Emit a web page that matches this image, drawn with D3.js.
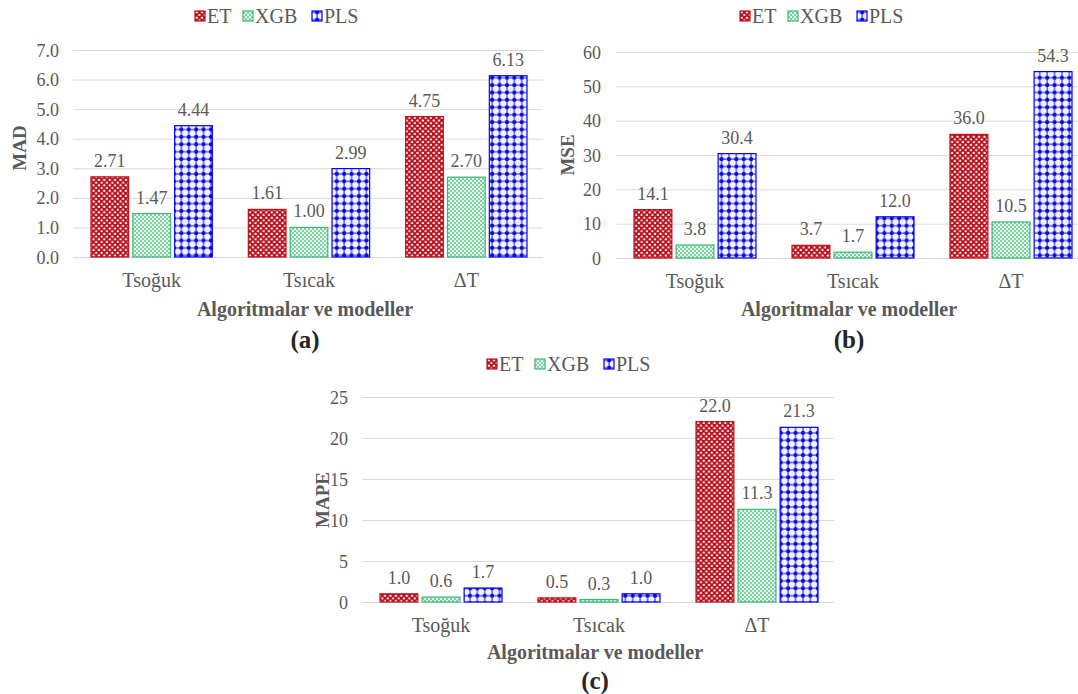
<!DOCTYPE html>
<html><head><meta charset="utf-8">
<script src="https://cdn.jsdelivr.net/npm/d3@7"></script>
<style>
body{margin:0;background:#fff;}
svg text{font-family:'Liberation Serif','Times New Roman',Times,'DejaVu Serif',serif !important;}
</style></head>
<body><svg id="c" width="1078" height="694"></svg>
<script>
// ---- data ----
const categories = ["Tsoğuk", "Tsıcak", "ΔT"];
const seriesNames = ["ET", "XGB", "PLS"];
const madET = [2.71, 1.61, 4.75];
const madXGB = [1.47, 1.00, 2.70];
const madPLS = [4.44, 2.99, 6.13];
const mseET = [14.1, 3.7, 36.0];
const mseXGB = [3.8, 1.7, 10.5];
const msePLS = [30.4, 12.0, 54.3];
const mapeET = [1.0, 0.5, 22.0];
const mapeXGB = [0.6, 0.3, 11.3];
const mapePLS = [1.7, 1.0, 21.3];
const madTicks = [0, 1, 2, 3, 4, 5, 6, 7];
const mseTicks = [0, 10, 20, 30, 40, 50, 60];
const mapeTicks = [0, 5, 10, 15, 20, 25];
const yTitles = ["MAD", "MSE", "MAPE"];
const xTitle = "Algoritmalar ve modeller";
const panelLetters = ["(a)", "(b)", "(c)"];

const FONT = "'Liberation Serif','Times New Roman',Times,'DejaVu Serif',serif";
const svg = d3.select("#c").attr("font-family", FONT);
const defs = svg.append("defs");

// patterns
const pET = defs.append("pattern").attr("id","pET").attr("patternUnits","userSpaceOnUse").attr("width",5.4).attr("height",5.4);
pET.append("rect").attr("width",5.4).attr("height",5.4).attr("fill","#b8121f");
pET.append("rect").attr("x",0.6).attr("y",0.6).attr("width",2.2).attr("height",2.2).attr("rx",0.8).attr("fill","#fff");
pET.append("rect").attr("x",3.3).attr("y",3.3).attr("width",2.2).attr("height",2.2).attr("rx",0.8).attr("fill","#ffe8ea");

const pXGB = defs.append("pattern").attr("id","pXGB").attr("patternUnits","userSpaceOnUse").attr("width",4).attr("height",4);
pXGB.append("rect").attr("width",4).attr("height",4).attr("fill","#e6f6ed");
pXGB.append("rect").attr("x",0).attr("y",0).attr("width",2).attr("height",2).attr("fill","#7fd0a3");
pXGB.append("rect").attr("x",2).attr("y",2).attr("width",2).attr("height",2).attr("fill","#7fd0a3");

const pPLS = defs.append("pattern").attr("id","pPLS").attr("patternUnits","userSpaceOnUse").attr("width",7.4).attr("height",7.4);
pPLS.append("rect").attr("width",7.4).attr("height",7.4).attr("fill","#f2f2ff");
pPLS.append("rect").attr("x",0).attr("y",3.2).attr("width",7.4).attr("height",1.1).attr("fill","#2a2ae8");
pPLS.append("rect").attr("x",3.2).attr("y",0).attr("width",1.1).attr("height",7.4).attr("fill","#2a2ae8");
pPLS.append("circle").attr("cx",3.75).attr("cy",3.75).attr("r",2.1).attr("fill","#0a0ad0");

const fills = {ET:"url(#pET)", XGB:"url(#pXGB)", PLS:"url(#pPLS)"};
const strokes = {ET:"#c0101a", XGB:"#3cb878", PLS:"#0000ff"};

const panels = [
  {vals:[madET,madXGB,madPLS], ticks:madTicks, fmt:".1f", lfmt:".2f", x0:73, x1:545, yTop:50, yBot:257,
   tickRight:59, yTitleX:19, yTitleY:148, legendX:195, legendY:16, titleY:316, letterY:348},
  {vals:[mseET,mseXGB,msePLS], ticks:mseTicks, fmt:"d", lfmt:".1f", x0:616, x1:1090, yTop:52, yBot:258,
   tickRight:601, yTitleX:567, yTitleY:155, legendX:740, legendY:16, titleY:316, letterY:348},
  {vals:[mapeET,mapeXGB,mapePLS], ticks:mapeTicks, fmt:"d", lfmt:".1f", x0:362, x1:836, yTop:397, yBot:602,
   tickRight:348, yTitleX:322, yTitleY:500, legendX:487, legendY:364, titleY:659, letterY:689}
];

panels.forEach((p, pi) => {
  const g = svg.append("g");
  const yMax = p.ticks[p.ticks.length-1];
  const y = d3.scaleLinear().domain([0, yMax]).range([p.yBot, p.yTop]);
  const x = d3.scaleBand().domain(categories).range([p.x0, p.x1]).padding(0);
  const xi = d3.scaleBand().domain(seriesNames).range([18, x.bandwidth()-18]).paddingInner(0.1).paddingOuter(0);

  // grid
  const yAxis = d3.axisLeft(y).tickValues(p.ticks).tickSize(-(p.x1 - p.x0 - 2)).tickFormat(d3.format(p.fmt)).tickPadding(0);
  const ag = g.append("g").attr("transform", `translate(${p.x0},0)`).call(yAxis).attr("font-family", FONT);
  ag.select(".domain").remove();
  ag.selectAll(".tick line").attr("stroke","#d9d9d9").attr("stroke-width",1);
  ag.selectAll(".tick text").attr("x", p.tickRight - p.x0).attr("fill","#595959").attr("font-size",18)
    .attr("text-anchor","end").attr("dy","0.34em");

  // x axis labels
  const xAxis = d3.axisBottom(x).tickSize(0).tickPadding(16);
  const xg = g.append("g").attr("transform", `translate(0,${p.yBot})`).call(xAxis).attr("font-family", FONT);
  xg.select(".domain").remove();
  xg.selectAll(".tick text").attr("fill","#595959").attr("font-size",20);

  // bars
  seriesNames.forEach((s, si) => {
    const data = p.vals[si];
    const bg = g.append("g");
    bg.selectAll("rect").data(categories).join("rect")
      .attr("x", (c) => x(c) + xi(s))
      .attr("y", (c, i) => y(data[i]))
      .attr("width", xi.bandwidth())
      .attr("height", (c, i) => p.yBot - y(data[i]))
      .attr("fill", fills[s]).attr("stroke", strokes[s]).attr("stroke-width", 1.2);
    bg.selectAll("text").data(categories).join("text")
      .attr("x", (c) => x(c) + xi(s) + xi.bandwidth()/2)
      .attr("y", (c, i) => y(data[i]) - 10)
      .attr("text-anchor","middle").attr("fill","#595959").attr("font-size",18)
      .text((c, i) => d3.format(p.lfmt)(data[i]));
  });

  // y title
  g.append("text").attr("transform", `translate(${p.yTitleX},${p.yTitleY}) rotate(-90)`)
    .attr("text-anchor","middle").attr("dy","0.35em").attr("font-weight","bold").attr("font-size",19)
    .attr("fill","#595959").text(yTitles[pi]);

  // x title and letter
  const cx = (p.x0 + p.x1) / 2 - 4;
  g.append("text").attr("x", cx).attr("y", p.titleY).attr("text-anchor","middle")
    .attr("font-weight","bold").attr("font-size",20).attr("fill","#595959").text(xTitle);
  g.append("text").attr("x", cx).attr("y", p.letterY).attr("text-anchor","middle")
    .attr("font-weight","bold").attr("font-size",25).attr("fill","#262626").text(panelLetters[pi]);

  // legend
  const lg = g.append("g").attr("transform", `translate(${p.legendX},${p.legendY})`);
  const offs = [0, 48, 117];
  seriesNames.forEach((s, si) => {
    lg.append("rect").attr("x", offs[si]).attr("y", -5).attr("width", 10).attr("height", 10)
      .attr("fill", fills[s]).attr("stroke", strokes[s]).attr("stroke-width", 1.2);
    lg.append("text").attr("x", offs[si] + 12).attr("y", 0).attr("dy","0.35em")
      .attr("font-size", 20).attr("fill","#595959").text(s);
  });
});
</script></body></html>
